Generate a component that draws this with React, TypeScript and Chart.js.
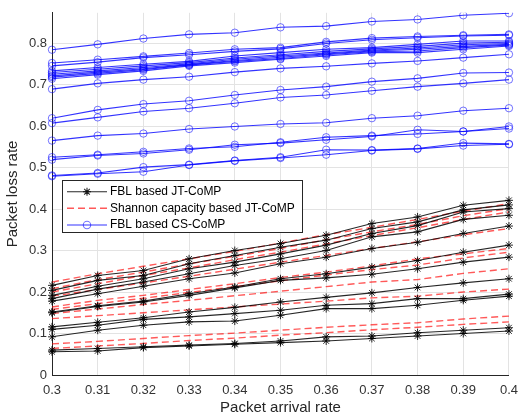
import React, { useEffect, useRef } from "react";
import { Chart, registerables } from "chart.js";

Chart.register(...registerables);

const xLabels = ["0.3", "0.31", "0.32", "0.33", "0.34", "0.35", "0.36", "0.37", "0.38", "0.39", "0.4"];

// FBL based CS-CoMP (blue, circles)
const csComp: number[][] = [
  [0.784, 0.797, 0.811, 0.821, 0.825, 0.838, 0.841, 0.852, 0.857, 0.867, 0.872],
  [0.752, 0.760, 0.768, 0.776, 0.785, 0.789, 0.803, 0.812, 0.816, 0.819, 0.821],
  [0.745, 0.754, 0.765, 0.772, 0.780, 0.786, 0.799, 0.808, 0.813, 0.817, 0.819],
  [0.733, 0.741, 0.749, 0.756, 0.769, 0.777, 0.785, 0.789, 0.797, 0.805, 0.805],
  [0.729, 0.737, 0.745, 0.753, 0.764, 0.772, 0.780, 0.786, 0.792, 0.800, 0.802],
  [0.725, 0.733, 0.741, 0.750, 0.761, 0.769, 0.776, 0.783, 0.788, 0.796, 0.799],
  [0.721, 0.730, 0.738, 0.748, 0.758, 0.766, 0.774, 0.781, 0.785, 0.792, 0.797],
  [0.718, 0.727, 0.736, 0.747, 0.756, 0.763, 0.772, 0.779, 0.781, 0.789, 0.795],
  [0.714, 0.724, 0.733, 0.745, 0.753, 0.761, 0.769, 0.777, 0.777, 0.785, 0.793],
  [0.689, 0.703, 0.712, 0.719, 0.730, 0.739, 0.744, 0.751, 0.757, 0.765, 0.773],
  [0.619, 0.639, 0.653, 0.661, 0.675, 0.687, 0.695, 0.707, 0.715, 0.728, 0.729],
  [0.607, 0.621, 0.635, 0.643, 0.655, 0.669, 0.675, 0.685, 0.695, 0.703, 0.712],
  [0.565, 0.577, 0.582, 0.593, 0.599, 0.605, 0.608, 0.619, 0.625, 0.637, 0.643],
  [0.525, 0.531, 0.538, 0.546, 0.550, 0.561, 0.573, 0.577, 0.581, 0.587, 0.599],
  [0.519, 0.529, 0.534, 0.543, 0.555, 0.559, 0.567, 0.575, 0.591, 0.587, 0.594],
  [0.481, 0.487, 0.501, 0.507, 0.517, 0.525, 0.543, 0.542, 0.546, 0.559, 0.557],
  [0.479, 0.485, 0.490, 0.506, 0.516, 0.523, 0.531, 0.541, 0.545, 0.553, 0.556],
];

// FBL based JT-CoMP (black, stars)
const jtComp: number[][] = [
  [0.216, 0.240, 0.252, 0.280, 0.300, 0.317, 0.337, 0.365, 0.381, 0.409, 0.421],
  [0.204, 0.228, 0.240, 0.268, 0.288, 0.308, 0.325, 0.353, 0.369, 0.398, 0.410],
  [0.192, 0.214, 0.232, 0.256, 0.272, 0.292, 0.313, 0.341, 0.360, 0.393, 0.401],
  [0.184, 0.207, 0.224, 0.244, 0.264, 0.280, 0.300, 0.333, 0.345, 0.375, 0.385],
  [0.178, 0.196, 0.214, 0.232, 0.246, 0.268, 0.284, 0.305, 0.320, 0.341, 0.359],
  [0.152, 0.167, 0.178, 0.196, 0.212, 0.232, 0.244, 0.260, 0.276, 0.296, 0.313],
  [0.150, 0.165, 0.176, 0.192, 0.210, 0.228, 0.234, 0.243, 0.256, 0.272, 0.284],
  [0.116, 0.127, 0.138, 0.152, 0.163, 0.176, 0.187, 0.198, 0.211, 0.222, 0.232],
  [0.110, 0.120, 0.134, 0.140, 0.148, 0.156, 0.168, 0.172, 0.184, 0.184, 0.195],
  [0.092, 0.108, 0.120, 0.128, 0.130, 0.144, 0.160, 0.160, 0.168, 0.180, 0.190],
  [0.060, 0.064, 0.068, 0.072, 0.076, 0.082, 0.092, 0.094, 0.102, 0.108, 0.114],
  [0.056, 0.058, 0.066, 0.070, 0.074, 0.078, 0.082, 0.088, 0.094, 0.100, 0.106],
];

// Shannon capacity based JT-CoMP (red, dashed)
const shannonComp: number[][] = [
  [0.224, 0.244, 0.262, 0.280, 0.298, 0.318, 0.338, 0.356, 0.375, 0.395, 0.413],
  [0.208, 0.230, 0.248, 0.268, 0.286, 0.305, 0.326, 0.345, 0.363, 0.384, 0.401],
  [0.200, 0.220, 0.240, 0.258, 0.278, 0.296, 0.316, 0.336, 0.355, 0.375, 0.393],
  [0.190, 0.206, 0.222, 0.238, 0.255, 0.272, 0.288, 0.305, 0.321, 0.338, 0.353],
  [0.164, 0.180, 0.192, 0.206, 0.220, 0.235, 0.248, 0.263, 0.280, 0.292, 0.305],
  [0.158, 0.172, 0.185, 0.199, 0.213, 0.227, 0.241, 0.254, 0.265, 0.282, 0.296],
  [0.148, 0.159, 0.170, 0.180, 0.191, 0.202, 0.213, 0.224, 0.230, 0.245, 0.256],
  [0.136, 0.143, 0.150, 0.157, 0.164, 0.171, 0.178, 0.186, 0.190, 0.200, 0.207],
  [0.075, 0.081, 0.088, 0.095, 0.101, 0.108, 0.115, 0.121, 0.126, 0.135, 0.142],
  [0.064, 0.070, 0.076, 0.083, 0.089, 0.096, 0.102, 0.109, 0.115, 0.122, 0.128],
];

const legendLabels = ["FBL based JT-CoMP", "Shannon capacity based JT-CoMP", "FBL based CS-CoMP"];

const FONT = "'Liberation Sans', Arial, sans-serif";
const BLUE_LINE = "rgba(0,0,255,0.8)";
const BLUE_MARK = "rgba(0,0,255,0.55)";
const BLACK = "rgba(0,0,0,0.85)";
const RED = "rgba(255,0,0,0.65)";

const legendPlugin = {
  id: "insideLegend",
  afterDraw(chart: any) {
    const ctx = chart.ctx;
    const x0 = 62.5, y0 = 180.5, w = 240, h = 52;
    ctx.save();
    ctx.fillStyle = "#ffffff";
    ctx.fillRect(x0, y0, w, h);
    ctx.strokeStyle = "#262626";
    ctx.lineWidth = 1;
    ctx.setLineDash([]);
    ctx.strokeRect(x0, y0, w, h);
    const rows = [191.7, 208.3, 225];
    const colors = [BLACK, RED, BLUE_LINE];
    rows.forEach((yy, i) => {
      ctx.strokeStyle = colors[i];
      ctx.lineWidth = i === 1 ? 1.4 : 1.1;
      ctx.setLineDash(i === 1 ? [7, 4] : []);
      ctx.beginPath();
      ctx.moveTo(67, yy);
      ctx.lineTo(107, yy);
      ctx.stroke();
      ctx.setLineDash([]);
      if (i === 0) {
        const r = 4;
        ctx.beginPath();
        ctx.moveTo(87 - r, yy); ctx.lineTo(87 + r, yy);
        ctx.moveTo(87, yy - r); ctx.lineTo(87, yy + r);
        const d = r * 0.707;
        ctx.moveTo(87 - d, yy - d); ctx.lineTo(87 + d, yy + d);
        ctx.moveTo(87 - d, yy + d); ctx.lineTo(87 + d, yy - d);
        ctx.stroke();
      } else if (i === 2) {
        ctx.strokeStyle = BLUE_MARK;
        ctx.beginPath();
        ctx.arc(87, yy, 3.7, 0, Math.PI * 2);
        ctx.stroke();
      }
      ctx.fillStyle = "#000000";
      ctx.font = `12px ${FONT}`;
      ctx.textBaseline = "middle";
      ctx.textAlign = "left";
      ctx.fillText(legendLabels[i], 110, yy);
    });
    ctx.restore();
  },
};

export default function App() {
  const canvasRef = useRef<HTMLCanvasElement | null>(null);

  useEffect(() => {
    if (!canvasRef.current) return;
    const datasets: any[] = [];
    jtComp.forEach((d) =>
      datasets.push({
        data: d,
        borderColor: BLACK,
        borderWidth: 1.1,
        pointStyle: "star",
        pointRadius: 4,
        pointBorderColor: BLACK,
        pointBorderWidth: 1,
        pointBackgroundColor: "transparent",
        fill: false,
      })
    );
    shannonComp.forEach((d) =>
      datasets.push({
        data: d,
        borderColor: RED,
        borderWidth: 1.4,
        borderDash: [7, 4],
        pointRadius: 0,
        fill: false,
      })
    );
    csComp.forEach((d) =>
      datasets.push({
        data: d,
        borderColor: BLUE_LINE,
        borderWidth: 1.1,
        pointStyle: "circle",
        pointRadius: 3.7,
        pointBorderColor: BLUE_MARK,
        pointBorderWidth: 1,
        pointBackgroundColor: "transparent",
        fill: false,
      })
    );

    const chart = new Chart(canvasRef.current, {
      type: "line",
      data: { labels: xLabels, datasets },
      options: {
        animation: false,
        responsive: true,
        maintainAspectRatio: false,
        layout: { padding: { top: 12, right: 7, left: 0, bottom: 0 } },
        plugins: { legend: { display: false }, tooltip: { enabled: false } },
        scales: {
          x: {
            type: "category",
            offset: false,
            grid: { color: "#e3e3e3", drawTicks: false },
            border: { color: "#262626", width: 1 },
            ticks: { color: "#333333", font: { family: FONT, size: 13 }, padding: 8, autoSkip: false, maxRotation: 0 },
            title: {
              display: true,
              text: "Packet arrival rate",
              color: "#262626",
              font: { family: FONT, size: 15 },
              padding: { top: 0, bottom: 2 },
            },
            afterFit: (scale: any) => {
              scale.height = 44;
            },
          },
          y: {
            type: "linear",
            min: 0,
            max: 0.873,
            grid: { color: "#e3e3e3", drawTicks: false },
            border: { color: "#262626", width: 1 },
            ticks: {
              stepSize: 0.1,
              includeBounds: false,
              color: "#333333",
              font: { family: FONT, size: 13 },
              padding: 5,
              callback: (v: any) => String(Number(Number(v).toFixed(1))),
            },
            title: {
              display: true,
              text: "Packet loss rate",
              color: "#262626",
              font: { family: FONT, size: 15 },
              padding: { top: 4, bottom: 0 },
            },
            afterFit: (scale: any) => {
              scale.width = 52;
            },
          },
        },
      },
      plugins: [legendPlugin],
    });
    return () => chart.destroy();
  }, []);

  return (
    <div style={{ position: "fixed", left: 0, top: 0, width: 526, height: 419, background: "#fff" }}>
      <canvas ref={canvasRef} />
    </div>
  );
}
